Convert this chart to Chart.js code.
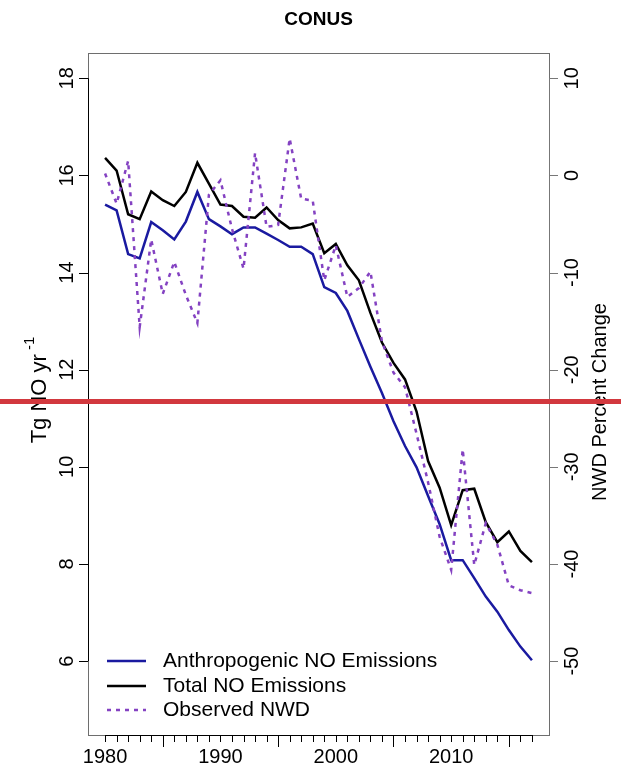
<!DOCTYPE html>
<html>
<head>
<meta charset="utf-8">
<title>CONUS</title>
<script src="https://cdn.jsdelivr.net/npm/chart.js@4/dist/chart.umd.min.js"></script>
<style>
  html, body { margin: 0; padding: 0; background: #fff; }
  #c { display: block; }
</style>
</head>
<body>
<canvas id="c" width="621" height="772"></canvas>
<script>
// data
var years = [1980, 1981, 1982, 1983, 1984, 1985, 1986, 1987, 1988, 1989,
             1990, 1991, 1992, 1993, 1994, 1995, 1996, 1997, 1998, 1999,
             2000, 2001, 2002, 2003, 2004, 2005, 2006, 2007, 2008, 2009,
             2010, 2011, 2012, 2013, 2014, 2015, 2016, 2017];

// Tg NO / yr (left axis)
var anthro = [15.40, 15.28, 14.38, 14.29, 15.04, 14.87, 14.68, 15.05, 15.66, 15.10,
              14.95, 14.79, 14.93, 14.93, 14.80, 14.67, 14.53, 14.53, 14.38, 13.70,
              13.58, 13.21, 12.63, 12.06, 11.52, 10.94, 10.43, 9.99, 9.40, 8.82,
              8.08, 8.08, 7.71, 7.33, 7.02, 6.64, 6.30, 6.02];
var total = [16.36, 16.10, 15.20, 15.10, 15.67, 15.49, 15.37, 15.66, 16.26, 15.83,
             15.40, 15.37, 15.15, 15.13, 15.34, 15.08, 14.91, 14.93, 15.01, 14.40,
             14.59, 14.15, 13.84, 13.17, 12.56, 12.14, 11.80, 11.14, 10.12, 9.57,
             8.80, 9.52, 9.55, 8.86, 8.45, 8.67, 8.27, 8.04];

// NWD percent change (right axis)
var nwd = [0.2, -2.9, 1.5, -15.6, -6.6, -12.2, -8.9, -12.3, -15.2, -2.0,
           -0.5, -5.5, -9.6, 2.3, -5.3, -5.1, 3.8, -2.4, -2.6, -10.8,
           -7.2, -12.5, -11.6, -9.9, -17.1, -20.3, -21.8, -26.6, -31.6, -37.2,
           -40.6, -28.2, -40.1, -35.8, -38.0, -42.2, -42.7, -43.0];

var leftTicks = [6, 8, 10, 12, 14, 16, 18];
var rightTicks = [-50, -40, -30, -20, -10, 0, 10];
var xLabels = [1980, 1990, 2000, 2010];
var xMidTicks = [1985, 1995, 2005, 2015];

var seriesNames = ["Anthropogenic NO Emissions", "Total NO Emissions", "Observed NWD"];
var seriesColors = ["#1a1aa0", "#000000", "#8442c2"];

function pts(vals) {
  return vals.map(function (v, i) { return {x: years[i], y: v}; });
}

var FONT = "'Liberation Sans', Arial, sans-serif";

function vText(ctx, txt, x, y, size) {
  ctx.save();
  ctx.translate(x, y);
  ctx.rotate(-Math.PI / 2);
  ctx.font = size + "px " + FONT;
  ctx.textAlign = "center";
  ctx.textBaseline = "middle";
  ctx.fillText(txt, 0, 0);
  ctx.restore();
}

var decor = {
  id: "decor",
  afterDraw: function (chart) {
    var ctx = chart.ctx, a = chart.chartArea;
    var sx = chart.scales.x, sy = chart.scales.y, sy2 = chart.scales.y2;
    ctx.save();

    // box
    ctx.lineWidth = 1;
    ctx.strokeStyle = "#6e6e6e";
    ctx.strokeRect(a.left + 0.5, a.top + 0.5, a.right - a.left, a.bottom - a.top);

    // left axis
    ctx.strokeStyle = "#000";
    ctx.fillStyle = "#000";
    ctx.beginPath();
    ctx.moveTo(a.left + 0.5, sy.getPixelForValue(leftTicks[0]));
    ctx.lineTo(a.left + 0.5, sy.getPixelForValue(leftTicks[leftTicks.length - 1]));
    leftTicks.forEach(function (t) {
      var y = Math.round(sy.getPixelForValue(t)) + 0.5;
      ctx.moveTo(a.left, y); ctx.lineTo(a.left - 9, y);
    });
    ctx.stroke();
    leftTicks.forEach(function (t) {
      vText(ctx, String(t), 67, sy.getPixelForValue(t), 20);
    });

    // right axis
    ctx.strokeStyle = "#777";
    ctx.beginPath();
    ctx.moveTo(a.right + 0.5, sy2.getPixelForValue(rightTicks[0]));
    ctx.lineTo(a.right + 0.5, sy2.getPixelForValue(rightTicks[rightTicks.length - 1]));
    rightTicks.forEach(function (t) {
      var y = Math.round(sy2.getPixelForValue(t)) + 0.5;
      ctx.moveTo(a.right, y); ctx.lineTo(a.right + 9, y);
    });
    ctx.stroke();
    ctx.fillStyle = "#000";
    rightTicks.forEach(function (t) {
      vText(ctx, String(t), 572, sy2.getPixelForValue(t), 20);
    });

    // bottom axis
    ctx.strokeStyle = "#000";
    ctx.beginPath();
    var yb = Math.round(a.bottom) + 0.5;
    ctx.moveTo(sx.getPixelForValue(years[0]), yb);
    ctx.lineTo(sx.getPixelForValue(years[years.length - 1]), yb);
    years.forEach(function (yr) {
      var x = Math.round(sx.getPixelForValue(yr)) + 0.5;
      var len = xMidTicks.indexOf(yr) >= 0 ? 12 : 7;
      ctx.moveTo(x, a.bottom); ctx.lineTo(x, a.bottom + len);
    });
    ctx.stroke();
    ctx.font = "20px " + FONT;
    ctx.textAlign = "center";
    ctx.textBaseline = "middle";
    xLabels.forEach(function (yr) {
      ctx.fillText(String(yr), sx.getPixelForValue(yr), 757);
    });

    // title
    ctx.font = "bold 19px " + FONT;
    ctx.fillText("CONUS", (a.left + a.right) / 2, 20);

    // left axis title with superscript
    ctx.save();
    ctx.translate(40, 390);
    ctx.rotate(-Math.PI / 2);
    ctx.textAlign = "left";
    ctx.textBaseline = "middle";
    ctx.font = "22px " + FONT;
    var main = "Tg NO yr";
    var w1 = ctx.measureText(main).width;
    ctx.font = "15px " + FONT;
    var sup = " -1";
    var w2 = ctx.measureText(sup).width;
    var x0 = -(w1 + w2) / 2;
    ctx.font = "22px " + FONT;
    ctx.fillText(main, x0, 0);
    ctx.font = "15px " + FONT;
    ctx.fillText(sup, x0 + w1, -10);
    ctx.restore();

    // right axis title
    vText(ctx, "NWD Percent Change", 600, 402, 20);

    // legend
    var rows = [661, 686, 710];
    rows.forEach(function (ry, i) {
      ctx.beginPath();
      ctx.strokeStyle = seriesColors[i];
      ctx.lineWidth = 2.5;
      ctx.setLineDash(i === 2 ? [4, 5] : []);
      ctx.moveTo(107, ry); ctx.lineTo(146, ry);
      ctx.stroke();
      ctx.setLineDash([]);
      ctx.fillStyle = "#000";
      ctx.font = "21px " + FONT;
      ctx.textAlign = "left";
      ctx.textBaseline = "middle";
      ctx.fillText(seriesNames[i], 163, ry);
    });

    // red horizontal rule across the image
    ctx.fillStyle = "#d2383e";
    ctx.fillRect(0, 399, chart.width, 5);

    ctx.restore();
  }
};

new Chart(document.getElementById("c"), {
  type: "line",
  data: {
    datasets: [
      {label: seriesNames[0], data: pts(anthro), yAxisID: "y", borderColor: seriesColors[0],
       borderWidth: 2.5, pointRadius: 0, tension: 0, order: 2},
      {label: seriesNames[1], data: pts(total), yAxisID: "y", borderColor: seriesColors[1],
       borderWidth: 2.5, pointRadius: 0, tension: 0, order: 1},
      {label: seriesNames[2], data: pts(nwd), yAxisID: "y2", borderColor: seriesColors[2],
       borderWidth: 2.5, borderDash: [4, 5], pointRadius: 0, tension: 0, order: 0}
    ]
  },
  options: {
    responsive: false,
    animation: false,
    devicePixelRatio: 1,
    layout: {padding: {left: 88, right: 72, top: 53, bottom: 37}},
    plugins: {legend: {display: false}, title: {display: false}, tooltip: {enabled: false}},
    scales: {
      x: {type: "linear", display: false, min: 1978.52, max: 2018.48},
      y: {type: "linear", display: false, min: 4.48, max: 18.52},
      y2: {type: "linear", display: false, position: "right", min: -57.6, max: 12.6}
    }
  },
  plugins: [decor]
});
</script>
</body>
</html>
